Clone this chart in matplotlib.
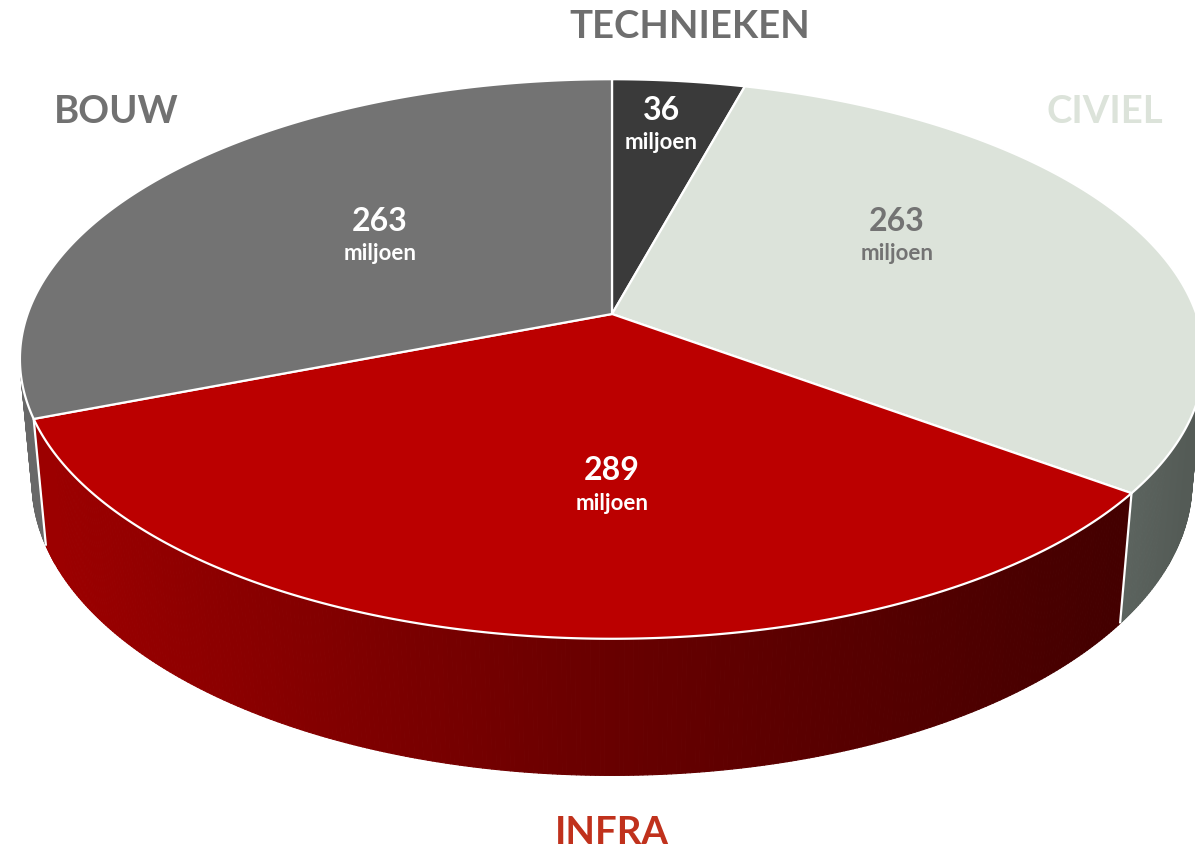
import numpy as np
import matplotlib
matplotlib.use("Agg")
import matplotlib.pyplot as plt
from matplotlib.patches import Polygon
from matplotlib.collections import PolyCollection
from matplotlib.colors import LinearSegmentedColormap

# Data: slices run clockwise from 12 o'clock
categories = ["TECHNIEKEN", "CIVIEL", "INFRA", "BOUW"]
values = [36, 263, 289, 263]
value_labels = ["36", "263", "289", "263"]
unit_label = "miljoen"

# Styling
top_colors = ["#3a3a3a", "#dce3da", "#bb0000", "#737373"]
side_stops = [
    ["#2e2e2e", "#2e2e2e"],
    ["#5d6560", "#545b56"],
    ["#9c0000", "#6a0000", "#440000"],
    ["#686868", "#5e5e5e"],
]
name_colors = ["#6e6e6e", "#dce3da", "#c0311c", "#717171"]
number_colors = ["white", "#737373", "white", "white"]
name_pos = [(690, 27), (1105, 112), (612, 833), (116, 112)]
number_pos = [(661, 110), (897, 221), (612, 471), (380, 221)]

W, H_PX = 1195, 853
fig = plt.figure(figsize=(W / 100, H_PX / 100), dpi=100)
ax = fig.add_axes([0, 0, 1, 1])
ax.set_xlim(0, W)
ax.set_ylim(H_PX, 0)
ax.axis("off")

# Perspective camera for the 3D disc (unit radius, top at y=0, bottom at -THICK)
ELEV = np.radians(27.8)
DIST = 5.5
SCALE = 3214.0
X0, Y0 = 612.0, 315.0
THICK = 0.24
sn, cs = np.sin(ELEV), np.cos(ELEV)


def project(theta, r, y):
    X = r * np.sin(theta)
    Z = -r * np.cos(theta)
    depth = DIST - y * sn - Z * cs
    sx = X0 + SCALE * X / depth
    sy = Y0 - SCALE * (y * cs - Z * sn) / depth
    return sx, sy


fractions = np.array(values, dtype=float) / np.sum(values)
bounds = np.concatenate([[0.0], np.cumsum(fractions)]) * 2 * np.pi

# Outer wall visible where the outward normal faces the camera
z_min = 1.0 / (DIST * cs)
vis_lo = np.arccos(-z_min)
vis_hi = 2 * np.pi - vis_lo

for i in range(len(values)):
    a0, a1 = max(bounds[i], vis_lo), min(bounds[i + 1], vis_hi)
    if a1 <= a0:
        continue
    cmap = LinearSegmentedColormap.from_list(f"side{i}", side_stops[i])
    n = max(int((a1 - a0) / np.radians(0.4)), 2)
    th = np.linspace(a0, a1, n + 1)
    tx, ty = project(th, 1.0, 0.0)
    bx, by = project(th, 1.0, -THICK)
    sx0, _ = project(a0, 1.0, -THICK)
    sx1, _ = project(a1, 1.0, -THICK)
    quads, cols = [], []
    for k in range(n):
        quads.append([(tx[k], ty[k]), (tx[k + 1], ty[k + 1]),
                      (bx[k + 1], by[k + 1]), (bx[k], by[k])])
        xm = 0.5 * (tx[k] + tx[k + 1])
        t = np.clip((xm - min(sx0, sx1)) / max(abs(sx1 - sx0), 1), 0, 1)
        cols.append(cmap(t))
    ax.add_collection(PolyCollection(quads, facecolors=cols, edgecolors=cols,
                                     linewidths=0.8, zorder=1))

# White seams on the wall at slice boundaries
for b in bounds[1:-1]:
    if vis_lo < b < vis_hi:
        tx, ty = project(b, 1.0, 0.0)
        bx, by = project(b, 1.0, -THICK)
        ax.plot([tx, bx], [ty, by], color="white", lw=1.6, zorder=2,
                solid_capstyle="butt")

# Top faces
cx, cy = project(0.0, 0.0, 0.0)
for i in range(len(values)):
    th = np.linspace(bounds[i], bounds[i + 1], 300)
    px, py = project(th, 1.0, 0.0)
    pts = np.column_stack([np.r_[cx, px], np.r_[cy, py]])
    ax.add_patch(Polygon(pts, closed=True, facecolor=top_colors[i],
                         edgecolor="white", lw=1.6, zorder=3,
                         joinstyle="round"))

FONT = ["Lato", "DejaVu Sans"]
for i in range(len(values)):
    nx, ny = name_pos[i]
    ax.text(nx, ny, categories[i], ha="center", va="center",
            fontsize=27.5, fontweight="bold", color=name_colors[i],
            family=FONT, zorder=5)
    vx, vy = number_pos[i]
    ax.text(vx, vy, value_labels[i], ha="center", va="center",
            fontsize=23, fontweight="bold", color=number_colors[i],
            family=FONT, zorder=5)
    ax.text(vx, vy + 32, unit_label, ha="center", va="center",
            fontsize=16, fontweight="bold", color=number_colors[i],
            family=FONT, zorder=5)

fig.savefig("out.png", dpi=100, facecolor="white")
